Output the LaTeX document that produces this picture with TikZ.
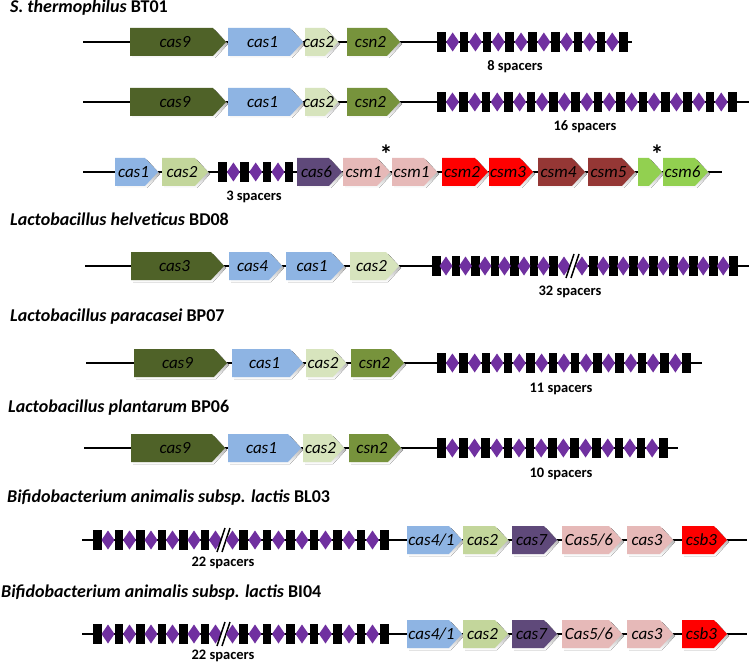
\documentclass[tikz,border=0pt]{standalone}
\usepackage{fontspec}
\setmainfont{Carlito}
\definecolor{olive}{RGB}{79,98,40}
\definecolor{casblue}{RGB}{142,180,227}
\definecolor{palegreen}{RGB}{215,228,189}
\definecolor{lgreen}{RGB}{195,214,155}
\definecolor{midgreen}{RGB}{119,147,60}
\definecolor{casviolet}{RGB}{95,73,122}
\definecolor{caspink}{RGB}{230,185,184}
\definecolor{casred}{RGB}{255,0,0}
\definecolor{darkred}{RGB}{149,55,53}
\definecolor{brightgreen}{RGB}{146,208,80}
\definecolor{spacer}{RGB}{112,48,160}
\definecolor{shade}{RGB}{215,215,215}
\newcommand\gene[6]{%
  \fill[shade] (#2+2,#4-12) -- (#3-11,#4-12) -- (#3+2,#4+2) -- (#3-11,#4+16) -- (#2+2,#4+16) -- cycle;
  \fill[#5] (#2,#4-14) -- (#3-13,#4-14) -- (#3,#4) -- (#3-13,#4+14) -- (#2,#4+14) -- cycle;
  \node[genelabel] (#1) at ({(#2+#3)/2-3},#4) {#6};}
\newcommand\rep[2]{\fill[black] (#1,#2-10) rectangle ++(8.5,20);}
\newcommand\spc[2]{\fill[spacer] (#1-6.5,#2) -- (#1,#2-9.5) -- (#1+6.5,#2) -- (#1,#2+9.5) -- cycle;}
\newcommand\crarr[4]{%
  \foreach \i in {1,...,#2} {\pgfmathsetmacro\xx{#1+(\i-1)*#3} \rep{\xx}{#4}}
  \pgfmathtruncatemacro\nn{#2-1}
  \foreach \i in {1,...,\nn} {\pgfmathsetmacro\xx{#1+(\i-1)*#3+4.25+#3/2} \spc{\xx}{#4}}}
\newcommand\brk[2]{%
  \draw[white, line width=5pt] (#1-4,#2+12) -- (#1+4,#2-12);
  \draw[black, line width=1.5pt] (#1-7,#2+12) -- (#1+1,#2-12);
  \draw[black, line width=1.5pt] (#1-2,#2+12) -- (#1+6,#2-12);}
\begin{document}
\begin{tikzpicture}[x=1pt,y=-1pt,
  genelabel/.style={font=\fontsize{17}{17}\selectfont\itshape, inner sep=0pt, text=black},
  heading/.style={font=\fontsize{18}{18}\selectfont\bfseries, anchor=west, inner sep=0pt},
  spacerlabel/.style={font=\fontsize{14.5}{14.5}\selectfont\bfseries, inner sep=0pt},
  dna/.style={line width=2.5pt, black},
  star/.style={font=\fontsize{26}{26}\selectfont\bfseries, inner sep=0pt}]
\useasboundingbox[fill=white] (0,0) rectangle (749,663);

% ---------- S. thermophilus BT01
\node[heading] (h1) at (10,8) {\textit{S. thermophilus} BT01};
% row 1
\draw[dna] (83,42) -- (632,42);
\gene{r1a}{130}{226}{42}{olive}{cas9}
\gene{r1b}{228}{303}{42}{casblue}{cas1}
\gene{r1c}{305}{338}{42}{palegreen}{cas2}
\gene{r1d}{347}{400}{42}{midgreen}{csn2}
\crarr{437}{9}{22.8}{42}
\node[spacerlabel] (s1) at (515,67) {8 spacers};
% row 2
\draw[dna] (83,102) -- (749,102);
\gene{r2a}{130}{226}{102}{olive}{cas9}
\gene{r2b}{228}{303}{102}{casblue}{cas1}
\gene{r2c}{305}{338}{102}{palegreen}{cas2}
\gene{r2d}{347}{400}{102}{midgreen}{csn2}
\crarr{437}{14}{22.4}{102}
\node[spacerlabel] (s2) at (585,127) {16 spacers};
% row 3
\draw[dna] (83,172) -- (722,172);
\gene{r3a}{115}{158}{172}{casblue}{cas1}
\gene{r3b}{162}{208}{172}{lgreen}{cas2}
\crarr{218}{4}{22.3}{172}
\gene{r3c}{297}{342}{172}{casviolet}{cas6}
\gene{r3d}{343}{390}{172}{caspink}{csm1}
\gene{r3e}{392}{437}{172}{caspink}{csm1}
\gene{r3f}{442}{488}{172}{casred}{csm2}
\gene{r3g}{489}{533}{172}{casred}{csm3}
\gene{r3h}{538}{585}{172}{darkred}{csm4}
\gene{r3i}{588}{635}{172}{darkred}{csm5}
\gene{r3j}{638}{662}{172}{brightgreen}{}
\gene{r3k}{663}{708}{172}{brightgreen}{csm6}
\node[spacerlabel] (s3) at (254,197) {3 spacers};
\node[star] (st1) at (386,154) {*};
\node[star] (st2) at (657,154) {*};

% ---------- L. helveticus BD08
\node[heading] (h2) at (10,219) {\textit{Lactobacillus helveticus} BD08};
\draw[dna] (85,266) -- (749,266);
\gene{r4a}{131}{224}{266}{olive}{cas3}
\gene{r4b}{229}{282}{266}{casblue}{cas4}
\gene{r4c}{286}{344}{266}{casblue}{cas1}
\gene{r4d}{350}{399}{266}{palegreen}{cas2}
\crarr{432}{7}{19.5}{266}
\spc{564}{266}
\brk{573}{266}
\spc{582}{266}
\crarr{589}{8}{20}{266}
\node[spacerlabel] (s4) at (570,292) {32 spacers};

% ---------- L. paracasei BP07
\node[heading] (h3) at (10,317) {\textit{Lactobacillus paracasei} BP07};
\draw[dna] (86,363) -- (702,363);
\gene{r5a}{134}{227}{363}{olive}{cas9}
\gene{r5b}{232}{303}{363}{casblue}{cas1}
\gene{r5c}{306}{346}{363}{palegreen}{cas2}
\gene{r5d}{351}{404}{363}{midgreen}{csn2}
\crarr{437}{12}{22.3}{363}
\node[spacerlabel] (s5) at (561,389) {11 spacers};

% ---------- L. plantarum BP06
\node[heading] (h4) at (8,408) {\textit{Lactobacillus plantarum} BP06};
\draw[dna] (84,448) -- (678,448);
\gene{r6a}{131}{225}{448}{olive}{cas9}
\gene{r6b}{228}{301}{448}{casblue}{cas1}
\gene{r6c}{303}{344}{448}{palegreen}{cas2}
\gene{r6d}{349}{401}{448}{midgreen}{csn2}
\crarr{437}{11}{22.2}{448}
\node[spacerlabel] (s6) at (561,474) {10 spacers};

% ---------- B. animalis BL03
\node[heading] (h5) at (7,498) {\textit{Bifidobacterium animalis subsp. lactis} BL03};
\draw[dna] (82,540) -- (747,540);
\crarr{93}{6}{21.5}{540}
\spc{215.5}{540}
\brk{224}{540}
\spc{232.5}{540}
\crarr{239}{7}{23.5}{540}
\gene{r7a}{407}{462}{540}{casblue}{cas4/1}
\gene{r7b}{463}{508}{540}{lgreen}{cas2}
\gene{r7c}{512}{557}{540}{casviolet}{cas7}
\gene{r7d}{562}{622}{540}{caspink}{Cas5/6}
\gene{r7e}{627}{673}{540}{caspink}{cas3}
\gene{r7f}{682}{727}{540}{casred}{csb3}
\node[spacerlabel] (s7) at (223,563) {22 spacers};

% ---------- B. animalis BI04
\node[heading] (h6) at (1,593) {\textit{Bifidobacterium animalis subsp. lactis} BI04};
\draw[dna] (82,634) -- (747,634);
\crarr{93}{6}{21.5}{634}
\spc{215.5}{634}
\brk{224}{634}
\spc{232.5}{634}
\crarr{239}{7}{23.5}{634}
\gene{r8a}{407}{462}{634}{casblue}{cas4/1}
\gene{r8b}{463}{508}{634}{lgreen}{cas2}
\gene{r8c}{512}{557}{634}{casviolet}{cas7}
\gene{r8d}{562}{622}{634}{caspink}{Cas5/6}
\gene{r8e}{627}{673}{634}{caspink}{cas3}
\gene{r8f}{682}{727}{634}{casred}{csb3}
\node[spacerlabel] (s8) at (223,656) {22 spacers};
\end{tikzpicture}
\end{document}
